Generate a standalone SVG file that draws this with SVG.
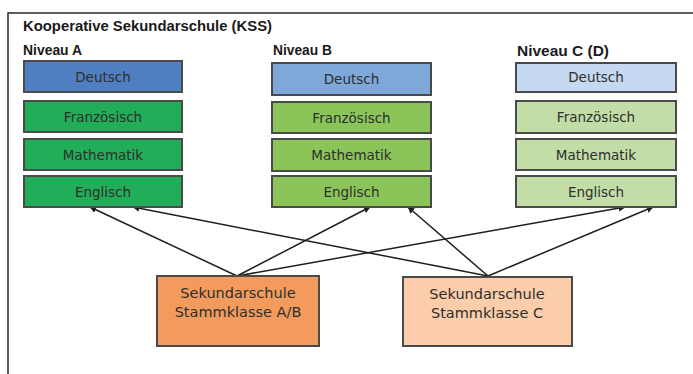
<svg xmlns="http://www.w3.org/2000/svg" width="693" height="374" viewBox="0 0 693 374">
<defs>
<style>
.box{stroke:#4a4a4a;stroke-width:2}
.lbl{font-family:"DejaVu Sans",sans-serif;font-size:13.5px;fill:#2e2e2e;text-anchor:middle}
.big{font-size:14.5px}
.hdr{font-family:"Liberation Sans",Arial,sans-serif;font-weight:bold;font-size:14px;fill:#1a1a1a}
.con{stroke:#1e1e1e;stroke-width:1.5;fill:none;marker-end:url(#ah)}
</style>
<marker id="ah" viewBox="0 0 10 10" refX="9" refY="5" markerWidth="7" markerHeight="7" markerUnits="userSpaceOnUse" orient="auto">
<path d="M0,0 L10,5 L0,10 z" fill="#1e1e1e"/>
</marker>
</defs>
<rect width="693" height="374" fill="#fff"/>
<path d="M8,374 V13 H693" stroke="#2a2a2a" stroke-width="1.5" fill="none"/>
<text class="hdr" x="23" y="31" textLength="249" lengthAdjust="spacingAndGlyphs">Kooperative Sekundarschule (KSS)</text>
<text class="hdr" x="23" y="55" textLength="59" lengthAdjust="spacingAndGlyphs">Niveau A</text>
<text class="hdr" x="273" y="55" textLength="59" lengthAdjust="spacingAndGlyphs">Niveau B</text>
<text class="hdr" x="517" y="56" textLength="92" lengthAdjust="spacingAndGlyphs">Niveau C (D)</text>

<g id="connectors">
<line class="con" x1="237" y1="276" x2="90" y2="207"/>
<line class="con" x1="237" y1="276" x2="370" y2="207"/>
<line class="con" x1="237" y1="276" x2="625" y2="207"/>
<line class="con" x1="488" y1="276" x2="133" y2="207"/>
<line class="con" x1="488" y1="276" x2="408" y2="207"/>
<line class="con" x1="488" y1="276" x2="653" y2="207"/>
</g>

<g id="a-deutsch"><rect class="box" x="24" y="61" width="158" height="31" fill="#4f7fc0"/><text class="lbl" x="103" y="82">Deutsch</text></g>
<g id="a-franz"><rect class="box" x="24" y="101" width="158" height="31" fill="#22ad58"/><text class="lbl" x="103" y="122">Französisch</text></g>
<g id="a-mathe"><rect class="box" x="24" y="139" width="158" height="31" fill="#22ad58"/><text class="lbl" x="103" y="160">Mathematik</text></g>
<g id="a-englisch"><rect class="box" x="24" y="176" width="158" height="31" fill="#22ad58"/><text class="lbl" x="103" y="197">Englisch</text></g>

<g id="b-deutsch"><rect class="box" x="272" y="63" width="159" height="32" fill="#7ea8d9"/><text class="lbl" x="351.5" y="84">Deutsch</text></g>
<g id="b-franz"><rect class="box" x="272" y="102" width="159" height="31" fill="#8bc55a"/><text class="lbl" x="351.5" y="123">Französisch</text></g>
<g id="b-mathe"><rect class="box" x="272" y="139" width="159" height="32" fill="#8bc55a"/><text class="lbl" x="351.5" y="160">Mathematik</text></g>
<g id="b-englisch"><rect class="box" x="272" y="176" width="159" height="31" fill="#8bc55a"/><text class="lbl" x="351.5" y="197">Englisch</text></g>

<g id="c-deutsch"><rect class="box" x="516" y="63" width="160" height="29" fill="#c5d9f0"/><text class="lbl" x="596" y="82">Deutsch</text></g>
<g id="c-franz"><rect class="box" x="516" y="101" width="160" height="32" fill="#c2dea6"/><text class="lbl" x="596" y="122">Französisch</text></g>
<g id="c-mathe"><rect class="box" x="516" y="139" width="160" height="31" fill="#c2dea6"/><text class="lbl" x="596" y="160">Mathematik</text></g>
<g id="c-englisch"><rect class="box" x="516" y="176" width="160" height="31" fill="#c2dea6"/><text class="lbl" x="596" y="197">Englisch</text></g>

<g id="stamm-ab"><rect class="box" x="157" y="276" width="162" height="70" fill="#f29b5d"/><text class="lbl big" x="238" y="298">Sekundarschule</text><text class="lbl big" x="238" y="317">Stammklasse A/B</text></g>
<g id="stamm-c"><rect class="box" x="403" y="277" width="169" height="69" fill="#fbcdab"/><text class="lbl big" x="487" y="299">Sekundarschule</text><text class="lbl big" x="487" y="318">Stammklasse C</text></g>
</svg>
